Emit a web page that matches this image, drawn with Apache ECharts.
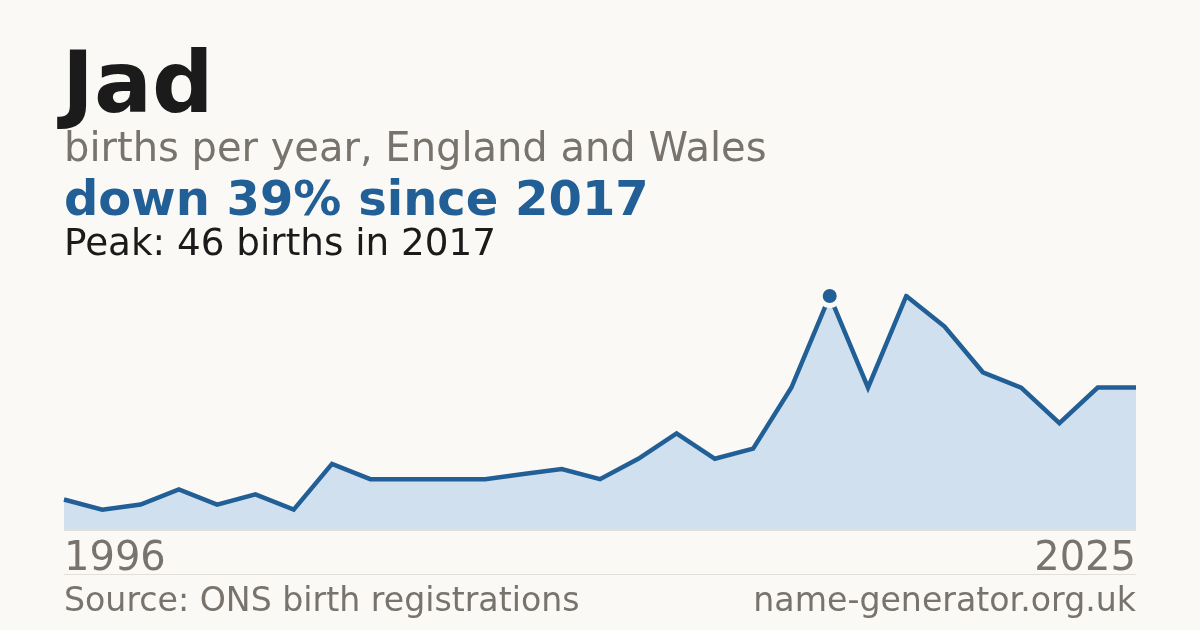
<!DOCTYPE html>
<html>
<head>
<meta charset="utf-8">
<script src="https://cdn.jsdelivr.net/npm/echarts@6/dist/echarts.min.js"></script>
<style>
html,body{margin:0;padding:0;background:#faf9f5;}
#chart{width:1200px;height:630px;}
</style>
</head>
<body>
<div id="chart"></div>
<script>
// Years with data (one year has no published count)
var years = ['1996','1998','1999','2000','2001','2002','2003','2004','2005','2006','2007','2008','2009','2010','2011','2012','2013','2014','2015','2016','2017','2018','2019','2020','2021','2022','2023','2024','2025'];
var births = [6,4,5,8,5,7,4,13,10,10,10,10,11,12,10,14,19,14,16,28,46,28,46,40,31,28,21,28,28];
var titleText = 'Jad';
var subtitleText = 'births per year, England and Wales';
var headlineText = 'down 39% since 2017';
var peakText = 'Peak: 46 births in 2017';
var sourceText = 'Source: ONS birth registrations';
var siteText = 'name-generator.org.uk';

var peakIdx = births.indexOf(Math.max.apply(null, births));
var FONT = 'DejaVu Sans';
var BLUE = '#215f96';
var GRAY = '#78736d';
var BG = '#faf9f5';

var chart = echarts.init(document.getElementById('chart'));
chart.setOption({
  animation: false,
  backgroundColor: BG,
  grid: {left: 64, right: 64, top: 296, bottom: 100, containLabel: false},
  xAxis: {
    type: 'category',
    data: years,
    boundaryGap: false,
    axisLine: {show: true, lineStyle: {color: '#e2dfd8', width: 1}},
    axisTick: {show: false},
    splitLine: {show: false},
    axisLabel: {
      show: true,
      interval: function (i) { return i === 0 || i === years.length - 1; },
      color: GRAY,
      fontFamily: FONT,
      fontSize: 40,
      margin: 10,
      alignMinLabel: 'left',
      alignMaxLabel: 'right'
    }
  },
  yAxis: {
    type: 'value', min: 0, max: Math.max.apply(null, births),
    show: false, splitLine: {show: false}
  },
  series: [
    {
      type: 'line',
      data: births,
      symbol: 'none',
      lineStyle: {color: BLUE, width: 4.5, join: 'miter'},
      areaStyle: {color: '#d0e0ef', opacity: 1},
      z: 2
    },
    {
      type: 'scatter',
      data: [[peakIdx, births[peakIdx]]],
      symbol: 'circle',
      symbolSize: 19,
      itemStyle: {color: BLUE, opacity: 1, borderColor: BG, borderWidth: 5},
      z: 5
    }
  ],
  graphic: [
    {type: 'text', left: 62, top: 47, style: {text: titleText, font: 'bold 86px "DejaVu Sans"', fill: '#1b1b1b'}},
    {type: 'text', left: 64, top: 131, style: {text: subtitleText, font: '40px "DejaVu Sans"', fill: GRAY}},
    {type: 'text', left: 64, top: 179, style: {text: headlineText, font: 'bold 48px "DejaVu Sans"', fill: BLUE}},
    {type: 'text', left: 64, top: 227, style: {text: peakText, font: '37.3px "DejaVu Sans"', fill: '#1b1b1b'}},
    {type: 'line', shape: {x1: 64, y1: 574.5, x2: 1136, y2: 574.5}, style: {stroke: '#e2dfd8', lineWidth: 1}},
    {type: 'text', left: 64, top: 586, style: {text: sourceText, font: '33.2px "DejaVu Sans"', fill: GRAY}},
    {type: 'text', right: 64, top: 586, style: {text: siteText, font: '33.2px "DejaVu Sans"', fill: GRAY}}
  ]
});
</script>
</body>
</html>
